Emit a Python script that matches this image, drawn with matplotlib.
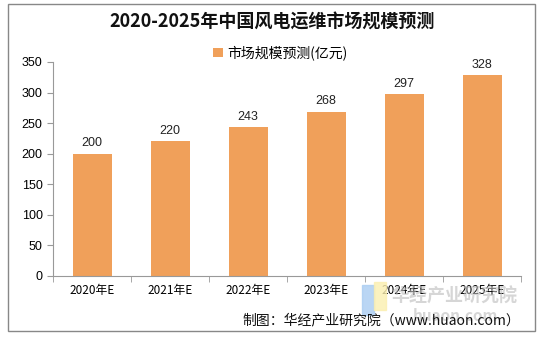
import matplotlib.pyplot as plt
from matplotlib.patches import Rectangle

plt.rcParams['font.family'] = ['Noto Sans CJK SC', 'DejaVu Sans']

years = ['2020年E', '2021年E', '2022年E', '2023年E', '2024年E', '2025年E']
values = [200, 220, 243, 268, 297, 328]
bar_color = '#F0A05A'

fig = plt.figure(figsize=(5.44, 3.38), dpi=100)
ax = fig.add_axes([53/544, 1 - 276/338, (521 - 53)/544, (276 - 62)/338])

x = list(range(len(years)))
ax.bar(x, values, width=0.5, color=bar_color, label='市场规模预测(亿元)')
for xi, v in zip(x, values):
    ax.text(xi, v + 8, str(v), ha='center', va='bottom', fontsize=9, color='#222222',
            family=['Liberation Sans', 'DejaVu Sans'])

ax.set_xlim(-0.5, len(years) - 0.5)
ax.set_ylim(0, 350)
ax.set_yticks(range(0, 351, 50))
ax.set_xticks(x)
ax.set_xticklabels(years, fontsize=8.5)
ax.set_xticks([i - 0.5 for i in range(len(years) + 1)], minor=True)
ax.tick_params(axis='x', which='major', length=0, pad=6)
ax.tick_params(axis='x', which='minor', length=4, color='#999999')
ax.tick_params(axis='y', length=4, color='#999999', labelsize=9)
for lab in ax.get_yticklabels():
    lab.set_family(['Liberation Sans', 'DejaVu Sans'])
ax.spines['top'].set_visible(False)
ax.spines['right'].set_visible(False)
ax.spines['left'].set_color('#999999')
ax.spines['bottom'].set_color('#999999')

fig.text(0.5, 1 - 22/338, '2020-2025年中国风电运维市场规模预测', ha='center', va='center',
         fontsize=13, fontweight='bold', color='#111111')
fig.legend(loc='center', bbox_to_anchor=(280/544, 1 - 53/338), frameon=False, fontsize=10,
           handlelength=0.7, handleheight=0.7, handletextpad=0.3)

# watermark
fig.patches.append(Rectangle((362/544, 1 - 315/338), 12/544, 30/338, transform=fig.transFigure,
                             color='#A9CCF2', alpha=0.8))
fig.patches.append(Rectangle((374/544, 1 - 310/338), 12/544, 28/338, transform=fig.transFigure,
                             color='#FBEFB0', alpha=0.8))
fig.text(455/544, 1 - 296/338, '华经产业研究院', ha='center', va='center', fontsize=13,
         fontweight='bold', color='#BBBBBB', alpha=0.6)
fig.text(455/544, 1 - 316/338, 'huaon.com', ha='center', va='center', fontsize=11,
         fontweight='bold', color='#BBBBBB', alpha=0.6)

fig.text(520/544, 1 - 320/338, '制图：华经产业研究院（www.huaon.com）', ha='right', va='center',
         fontsize=10, color='#111111')

fig.patches.append(Rectangle((8/544, 1 - 331/338), 527/544, 327/338, transform=fig.transFigure,
                             fill=False, edgecolor='#888888', linewidth=1))

fig.savefig('out.png', dpi=100)
